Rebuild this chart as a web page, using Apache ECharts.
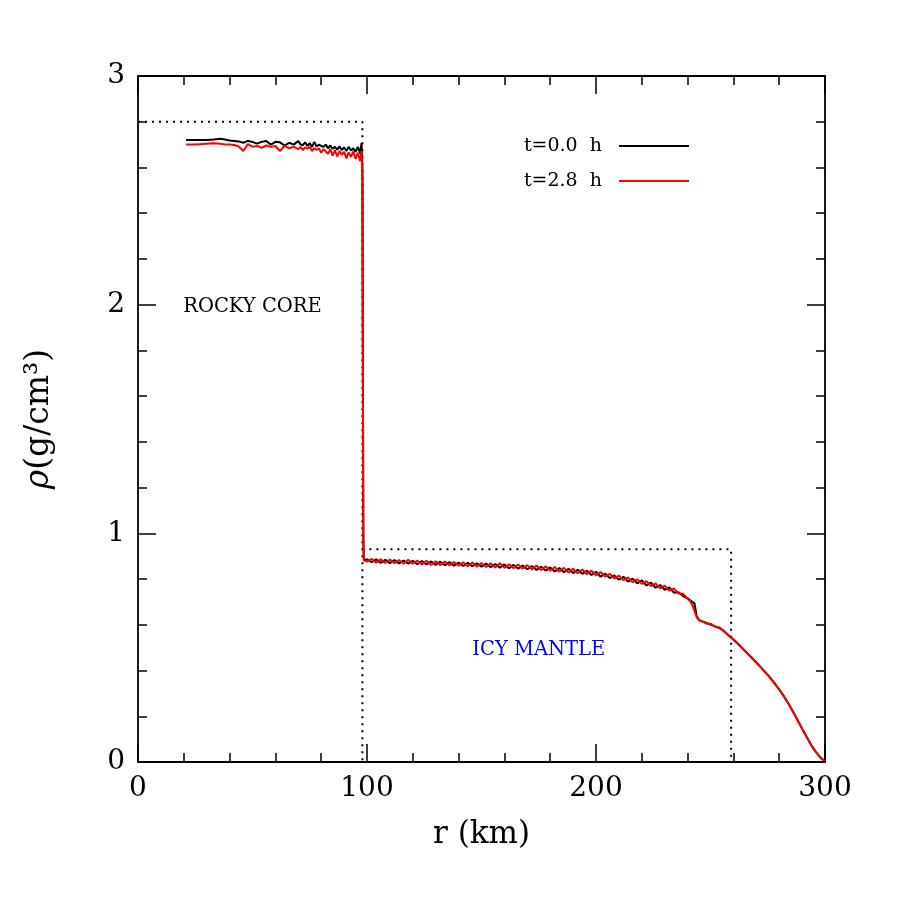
<!DOCTYPE html>
<html>
<head>
<meta charset="utf-8">
<script src="https://cdn.jsdelivr.net/npm/echarts@6/dist/echarts.min.js"></script>
<style>
  html, body { margin: 0; padding: 0; background: #fff; }
  #chart { width: 900px; height: 900px; }
</style>
</head>
<body>
<div id="chart"></div>
<script>
// initial model profile (dotted)
const coreStepR = [0, 98, 98];
const coreStepRho = [2.8, 2.8, 0];
const mantleStepR = [98, 259, 259];
const mantleStepRho = [0.93, 0.93, 0];

// t = 0.0 h, core + mantle up to r = 258
const blackR = [21, 24, 27, 30, 33, 36, 38, 40, 42, 44, 46, 48, 50, 52, 54, 56, 58, 60, 62, 64, 66, 68, 70, 71, 72, 73, 74, 75, 76, 77, 78, 79, 80, 81, 82, 83, 84, 85, 86, 87, 88, 89, 90, 91, 92, 93, 94, 95, 96, 97, 97.6, 98.0, 98.2, 98.4, 98.6,
  99, 100, 102, 104, 106, 108, 110, 112, 114, 116, 118, 120, 122, 124, 126, 128, 130, 132, 134, 136, 138, 140, 142, 144, 146, 148, 150, 152, 154, 156, 158, 160, 162, 164, 166, 168, 170, 172, 174, 176, 178, 180, 182, 184, 186, 188, 190, 192, 194, 196, 198, 200, 202, 204, 206, 208, 210, 212, 214, 216, 218, 220, 222, 224, 226, 228, 230, 232, 234, 236, 238, 240, 242, 243, 243.6, 244, 245, 246, 248, 250, 252, 254, 256, 258];
const blackRho = [2.720, 2.720, 2.720, 2.720, 2.722, 2.726, 2.722, 2.718, 2.716, 2.714, 2.708, 2.716, 2.712, 2.704, 2.712, 2.716, 2.700, 2.712, 2.710, 2.696, 2.708, 2.700, 2.716, 2.700, 2.698, 2.710, 2.694, 2.706, 2.690, 2.712, 2.692, 2.700, 2.694, 2.690, 2.700, 2.684, 2.696, 2.682, 2.690, 2.678, 2.692, 2.676, 2.688, 2.672, 2.690, 2.674, 2.684, 2.668, 2.690, 2.662, 2.706, 2.600, 1.800, 1.000, 0.885,
  0.878, 0.886, 0.874, 0.886, 0.871, 0.884, 0.870, 0.883, 0.868, 0.881, 0.868, 0.880, 0.865, 0.879, 0.864, 0.877, 0.862, 0.876, 0.861, 0.874, 0.859, 0.872, 0.857, 0.871, 0.856, 0.869, 0.854, 0.868, 0.852, 0.866, 0.850, 0.864, 0.847, 0.862, 0.845, 0.859, 0.843, 0.857, 0.840, 0.854, 0.837, 0.851, 0.833, 0.848, 0.830, 0.845, 0.826, 0.841, 0.823, 0.836, 0.818, 0.832, 0.810, 0.824, 0.804, 0.816, 0.797, 0.810, 0.789, 0.802, 0.781, 0.794, 0.772, 0.784, 0.762, 0.774, 0.753, 0.764, 0.741, 0.742, 0.726, 0.716, 0.701, 0.694, 0.688, 0.636, 0.622, 0.616, 0.609, 0.601, 0.593, 0.585, 0.572, 0.552];

// t = 2.8 h, core + mantle up to r = 258
const redR = [21, 24, 27, 30, 33, 36, 38, 40, 42, 44, 46, 48, 50, 52, 54, 56, 58, 60, 62, 64, 66, 68, 70, 71, 72, 73, 74, 75, 76, 77, 78, 79, 80, 81, 82, 83, 84, 85, 86, 87, 88, 89, 90, 91, 92, 93, 94, 95, 96, 97, 97.6, 98.0, 98.2, 98.4, 98.6,
  99, 100, 102, 104, 106, 108, 110, 112, 114, 116, 118, 120, 122, 124, 126, 128, 130, 132, 134, 136, 138, 140, 142, 144, 146, 148, 150, 152, 154, 156, 158, 160, 162, 164, 166, 168, 170, 172, 174, 176, 178, 180, 182, 184, 186, 188, 190, 192, 194, 196, 198, 200, 202, 204, 206, 208, 210, 212, 214, 216, 218, 220, 222, 224, 226, 228, 230, 232, 234, 236, 238, 240, 241, 242, 243, 244, 245, 246, 248, 250, 252, 254, 256, 258];
const redRho = [2.700, 2.700, 2.702, 2.704, 2.706, 2.704, 2.700, 2.700, 2.698, 2.692, 2.672, 2.702, 2.690, 2.694, 2.686, 2.696, 2.690, 2.694, 2.672, 2.694, 2.684, 2.690, 2.680, 2.690, 2.676, 2.688, 2.682, 2.690, 2.672, 2.684, 2.676, 2.684, 2.664, 2.680, 2.670, 2.660, 2.680, 2.652, 2.676, 2.648, 2.672, 2.656, 2.668, 2.640, 2.666, 2.646, 2.670, 2.638, 2.664, 2.628, 2.672, 2.550, 1.700, 0.950, 0.882,
  0.886, 0.876, 0.888, 0.872, 0.886, 0.870, 0.885, 0.869, 0.883, 0.867, 0.884, 0.867, 0.881, 0.864, 0.880, 0.862, 0.878, 0.861, 0.877, 0.859, 0.875, 0.858, 0.873, 0.856, 0.872, 0.854, 0.870, 0.853, 0.869, 0.850, 0.869, 0.849, 0.865, 0.847, 0.864, 0.845, 0.861, 0.842, 0.859, 0.839, 0.856, 0.836, 0.853, 0.832, 0.849, 0.828, 0.845, 0.825, 0.842, 0.821, 0.837, 0.816, 0.831, 0.810, 0.823, 0.802, 0.815, 0.795, 0.807, 0.786, 0.799, 0.779, 0.791, 0.769, 0.781, 0.759, 0.771, 0.748, 0.759, 0.737, 0.736, 0.713, 0.705, 0.688, 0.662, 0.632, 0.620, 0.617, 0.606, 0.605, 0.591, 0.588, 0.570, 0.553];

// outer tail, both curves coincide here
const tailR = [260, 262, 264, 266, 268, 270, 272, 274, 276, 278, 280, 282, 284, 286, 288, 290, 292, 294, 296, 298, 300];
const tailRho = [0.536, 0.517, 0.497, 0.476, 0.456, 0.435, 0.414, 0.392, 0.369, 0.344, 0.317, 0.288, 0.256, 0.221, 0.184, 0.146, 0.109, 0.074, 0.044, 0.019, 0.003];

const xTicks = [0, 100, 200, 300];
const yTicks = [0, 1, 2, 3];
const seriesNames = ['t=0.0  h', 't=2.8  h'];

const zip = (a, b) => a.map((v, i) => [v, b[i]]);
const serif = 'DejaVu Serif';

const chart = echarts.init(document.getElementById('chart'), null, { renderer: 'canvas' });

const axisCommon = {
  type: 'value',
  axisLine: { show: true, onZero: false, lineStyle: { color: '#000', width: 1.8 } },
  axisTick: { show: true, inside: true, length: 18, lineStyle: { color: '#000', width: 1.5 } },
  minorTick: { show: true, splitNumber: 5, length: 9, lineStyle: { color: '#000', width: 1.5 } },
  splitLine: { show: false },
  minorSplitLine: { show: false }
};

const option = {
  animation: false,
  backgroundColor: '#fff',
  grid: { left: 138, right: 75, top: 76, bottom: 138 },
  legend: {
    data: seriesNames,
    orient: 'vertical',
    right: 206,
    top: 131,
    align: 'right',
    icon: 'rect',
    itemWidth: 70,
    itemHeight: 2,
    itemGap: 15,
    textStyle: { fontFamily: serif, fontSize: 19, color: '#000', lineHeight: 20, padding: [0, 12, 0, 0] }
  },
  xAxis: [
    Object.assign({}, axisCommon, {
      min: xTicks[0], max: xTicks[xTicks.length - 1], interval: 100,
      position: 'bottom',
      name: 'r (km)', nameLocation: 'middle', nameGap: 57,
      nameTextStyle: { fontFamily: serif, fontSize: 31, color: '#000' },
      axisLabel: { fontFamily: serif, fontSize: 28, color: '#000', margin: 13 }
    }),
    Object.assign({}, axisCommon, {
      min: xTicks[0], max: xTicks[xTicks.length - 1], interval: 100,
      position: 'top', axisLabel: { show: false }
    })
  ],
  yAxis: [
    Object.assign({}, axisCommon, {
      min: yTicks[0], max: yTicks[yTicks.length - 1], interval: 1,
      position: 'left',
      name: '{i|ρ}(g/cm³)', nameLocation: 'middle', nameGap: 82, nameRotate: 90,
      nameTextStyle: {
        fontFamily: serif, fontSize: 33, color: '#000',
        rich: { i: { fontFamily: serif, fontSize: 33, fontStyle: 'italic', color: '#000' } }
      },
      axisLabel: { fontFamily: serif, fontSize: 28, color: '#000', margin: 13 }
    }),
    Object.assign({}, axisCommon, {
      min: yTicks[0], max: yTicks[yTicks.length - 1], interval: 1,
      position: 'right', axisLabel: { show: false }
    })
  ],
  series: [
    {
      type: 'line', data: zip(coreStepR, coreStepRho), showSymbol: false, silent: true,
      lineStyle: { color: '#000', width: 2, type: [2, 5] }
    },
    {
      type: 'line', data: zip(mantleStepR, mantleStepRho), showSymbol: false, silent: true,
      lineStyle: { color: '#000', width: 2, type: [2, 5] }
    },
    {
      name: seriesNames[0], type: 'line', showSymbol: false,
      data: zip(blackR.concat(tailR), blackRho.concat(tailRho)),
      lineStyle: { color: '#000', width: 2 }, itemStyle: { color: '#000' }
    },
    {
      name: seriesNames[1], type: 'line', showSymbol: false,
      data: zip(redR.concat(tailR), redRho.concat(tailRho)),
      lineStyle: { color: '#ff0000', width: 2 }, itemStyle: { color: '#ff0000' }
    }
  ]
};

chart.setOption(option);

// region labels placed at data coordinates
const rocky = chart.convertToPixel({ gridIndex: 0 }, [50, 1.99]);
const icy = chart.convertToPixel({ gridIndex: 0 }, [175, 0.49]);
chart.setOption({
  graphic: [
    { type: 'text', x: rocky[0], y: rocky[1], style: { text: 'ROCKY CORE', fontFamily: serif, fontSize: 19.5, fill: '#000', align: 'center', verticalAlign: 'middle' } },
    { type: 'text', x: icy[0], y: icy[1], style: { text: 'ICY MANTLE', fontFamily: serif, fontSize: 19.5, fill: '#0000ff', align: 'center', verticalAlign: 'middle' } }
  ]
});
</script>
</body>
</html>
